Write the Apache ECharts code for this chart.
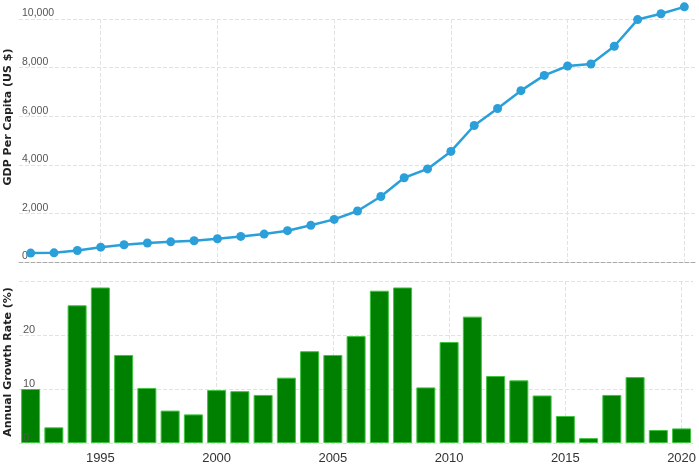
<!DOCTYPE html>
<html>
<head>
<meta charset="utf-8">
<script src="https://cdn.jsdelivr.net/npm/echarts@6/dist/echarts.min.js"></script>
<style>
  html, body { margin: 0; padding: 0; background: #fff; }
  #chart { width: 699px; height: 465px; }
</style>
</head>
<body>
<div id="chart"></div>
<script>
const years = ['1992','1993','1994','1995','1996','1997','1998','1999','2000','2001',
  '2002','2003','2004','2005','2006','2007','2008','2009','2010','2011',
  '2012','2013','2014','2015','2016','2017','2018','2019','2020']
const gdpPerCapita = [366, 377, 473, 610, 709, 782, 829, 873, 959, 1053,
  1149, 1289, 1509, 1753, 2099, 2694, 3468, 3832, 4550, 5618,
  6317, 7051, 7679, 8067, 8148, 8879, 9977, 10217, 10500]
const growthRate = [10.0, 2.9, 25.5, 28.8, 16.3, 10.2, 6.0, 5.3, 9.8, 9.6,
  8.9, 12.1, 17.0, 16.3, 19.8, 28.2, 28.8, 10.3, 18.7, 23.4,
  12.4, 11.6, 8.8, 5.0, 0.9, 8.9, 12.2, 2.4, 2.7]

const everyFive = (i, v) => Number(years[i]) % 5 === 0

let myChart = echarts.init(document.getElementById('chart'))

const gridLine = { show: true, lineStyle: { type: 'dashed', color: '#e2e2e2' } }
const vLine = { show: true, interval: everyFive, alignWithLabel: true,
  lineStyle: { type: 'dashed', color: '#e2e2e2' } }
const rateLabel = { inside: true, margin: 4, color: '#555', fontSize: 11, verticalAlign: 'bottom',
  formatter: (v) => (v >= 30 ? '' : String(v)) }

myChart.setOption({
  animation: false,
  textStyle: { fontFamily: 'Liberation Sans' },
  graphic: [
    {
      type: 'text', x: 8, y: 117, rotation: Math.PI / 2,
      style: { text: 'GDP Per Capita (US $)', font: 'bold 11px "DejaVu Sans"', fill: '#222',
        textAlign: 'center', textVerticalAlign: 'middle' }
    },
    {
      type: 'text', x: 8, y: 362, rotation: Math.PI / 2,
      style: { text: 'Annual Growth Rate (%)', font: 'bold 11px "DejaVu Sans"', fill: '#222',
        textAlign: 'center', textVerticalAlign: 'middle' }
    }
  ],
  grid: [
    { left: 19, right: 3, top: 19, height: 243 },
    { left: 19, right: 3, top: 281, height: 162 }
  ],
  xAxis: [
    {
      type: 'category', gridIndex: 0, data: years,
      axisLine: { show: true, lineStyle: { type: 'dashed', color: '#aaa' } },
      axisTick: { show: false },
      axisLabel: { show: false },
      splitLine: vLine
    },
    {
      type: 'category', gridIndex: 1, data: years,
      axisLine: { show: false },
      axisTick: { show: false },
      axisLabel: { interval: everyFive, color: '#333', fontSize: 13, margin: 9 },
      splitLine: vLine
    }
  ],
  yAxis: [
    {
      type: 'value', gridIndex: 0, min: 0, max: 10000, interval: 2000,
      axisLine: { show: false }, axisTick: { show: false },
      axisLabel: { inside: true, margin: 3, color: '#555', fontSize: 10.5, verticalAlign: 'bottom',
        formatter: (v) => v.toLocaleString('en-US') },
      splitLine: gridLine
    },
    {
      type: 'value', gridIndex: 1, min: 0, max: 30, interval: 10, position: 'left',
      axisLine: { show: false }, axisTick: { show: false },
      axisLabel: { show: false },
      splitLine: gridLine
    },
    {
      // label-only copy so the tick numbers sit on top of the bars
      type: 'value', gridIndex: 1, min: 0, max: 30, interval: 10, position: 'left', offset: 0, z: 6,
      axisLine: { show: false }, axisTick: { show: false },
      axisLabel: rateLabel,
      splitLine: { show: false }
    }
  ],
  series: [
    {
      name: 'GDP Per Capita', type: 'line', xAxisIndex: 0, yAxisIndex: 0,
      data: gdpPerCapita, clip: false,
      symbol: 'circle', symbolSize: 9,
      lineStyle: { color: '#2b9fd9', width: 2.5 },
      itemStyle: { color: '#2b9fd9' },
      z: 5
    },
    {
      name: 'Annual Growth Rate', type: 'bar', xAxisIndex: 1, yAxisIndex: 1,
      data: growthRate, barWidth: 19,
      itemStyle: { color: '#008000', borderColor: '#3fc43f', borderWidth: 1 }
    }
  ]
})
</script>
</body>
</html>
